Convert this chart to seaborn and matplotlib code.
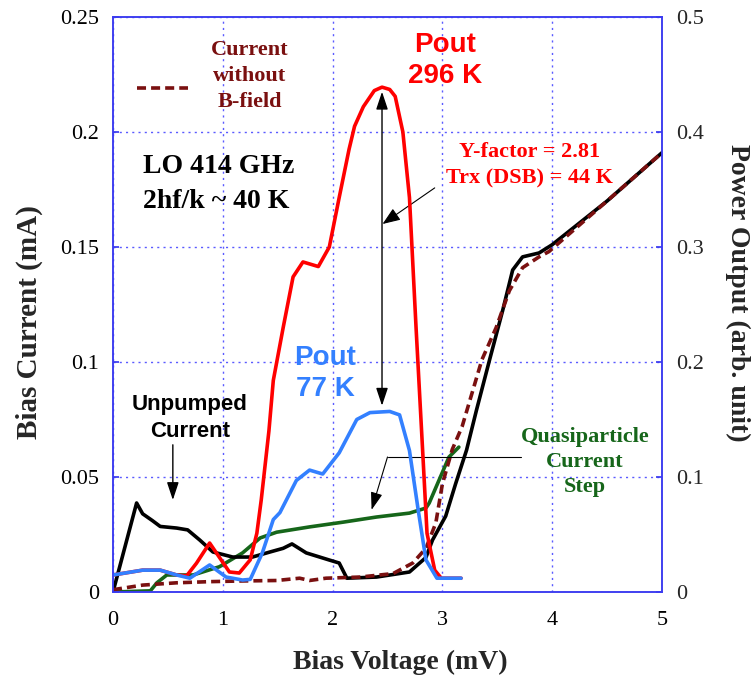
import matplotlib
matplotlib.use("Agg")
import matplotlib.pyplot as plt
import seaborn as sns

# ---------------- data ----------------
# Unpumped current (black, left axis, mA)
unp_v = [0, 0.215, 0.27, 0.36, 0.43, 0.58, 0.68, 0.79, 0.91, 1.09, 1.27, 1.43, 1.55, 1.63,
         1.76, 1.97, 2.06, 2.13, 2.4, 2.7, 2.85, 2.91, 3.03, 3.12, 3.22, 3.31, 3.43, 3.55,
         3.64, 3.73, 3.88, 4.0, 4.5, 5.0]
unp_i = [0, 0.0387, 0.034, 0.031, 0.0285, 0.0278, 0.027, 0.0226, 0.0174, 0.0152, 0.0152,
         0.0174, 0.019, 0.0209, 0.017, 0.0139, 0.0126, 0.006, 0.0065, 0.0087, 0.015, 0.0226,
         0.033, 0.047, 0.0617, 0.079, 0.101, 0.1226, 0.14, 0.1457, 0.1474, 0.151, 0.170, 0.191]

# Current without B-field (dark red dashed, left axis, mA)
nob_v = [0, 0.27, 0.58, 0.88, 1.18, 1.49, 1.7, 1.79, 1.94, 2.25, 2.55, 2.73, 2.85, 2.94,
         3.0, 3.09, 3.18, 3.27, 3.36, 3.49, 3.61, 3.73, 3.88, 3.97, 4.5, 5.0]
nob_i = [0.001, 0.003, 0.004, 0.0045, 0.0048, 0.005, 0.006, 0.005, 0.006, 0.0065, 0.008,
         0.0126, 0.019, 0.030, 0.047, 0.062, 0.072, 0.0865, 0.101, 0.115, 0.131, 0.141,
         0.1457, 0.148, 0.170, 0.191]

# Quasiparticle current step (green, left axis, mA)
qp_v = [0, 0.34, 0.4, 0.49, 0.73, 0.97, 1.18, 1.34, 1.49, 1.79, 2.1, 2.4, 2.7, 2.85, 2.88,
        2.97, 3.06, 3.15]
qp_i = [0, 0.0005, 0.004, 0.0074, 0.0074, 0.011, 0.017, 0.0235, 0.026, 0.0283, 0.0304,
        0.0326, 0.0343, 0.0365, 0.0387, 0.0487, 0.0587, 0.063]

# Pout 296 K (red, right axis, arb. unit)
hot_v = [0, 0.27, 0.43, 0.58, 0.67, 0.76, 0.88, 0.97, 1.06, 1.15, 1.25, 1.31, 1.35, 1.42,
         1.46, 1.55, 1.64, 1.73, 1.87, 1.97, 2.06, 2.15, 2.2, 2.28, 2.38, 2.45, 2.52, 2.57,
         2.64, 2.7, 2.76, 2.82, 2.86, 2.93, 2.99, 3.17]
hot_p = [0.0148, 0.019, 0.019, 0.0148, 0.014, 0.025, 0.0426, 0.030, 0.0174, 0.0165, 0.028,
         0.051, 0.08, 0.14, 0.184, 0.23, 0.274, 0.287, 0.283, 0.30, 0.343, 0.385, 0.405,
         0.422, 0.436, 0.439, 0.437, 0.431, 0.40, 0.343, 0.23, 0.123, 0.051, 0.019, 0.012,
         0.012]

# Pout 77 K (blue, right axis, arb. unit)
cold_v = [0, 0.27, 0.43, 0.58, 0.7, 0.88, 1.03, 1.18, 1.25, 1.36, 1.46, 1.52, 1.67, 1.79,
          1.91, 2.06, 2.22, 2.34, 2.52, 2.61, 2.7, 2.78, 2.85, 2.95, 3.17]
cold_p = [0.0148, 0.019, 0.019, 0.0148, 0.012, 0.0235, 0.013, 0.0104, 0.011, 0.034, 0.063,
          0.069, 0.097, 0.106, 0.1026, 0.121, 0.15, 0.156, 0.157, 0.154, 0.123, 0.071,
          0.028, 0.012, 0.012]

x_ticks = [0, 1, 2, 3, 4, 5]
left_ticks = [0, 0.05, 0.1, 0.15, 0.2, 0.25]
left_labels = ["0", "0.05", "0.1", "0.15", "0.2", "0.25"]
right_ticks = [0, 0.1, 0.2, 0.3, 0.4, 0.5]
right_labels = ["0", "0.1", "0.2", "0.3", "0.4", "0.5"]

# ---------------- style ----------------
sns.set_theme(style="white")
plt.rcParams["font.family"] = ["Liberation Serif", "DejaVu Serif"]
SERIF = ["Liberation Serif", "DejaVu Serif"]
SANS = ["Liberation Sans", "DejaVu Sans"]

BLUE_AX = "#3b3bf0"
GRID = "#5a5aff"
RED = "#ff0000"
LBLUE = "#3380ff"
GREEN = "#16661a"
DRED = "#7a1010"
DASH = [2.5, 1.4]

fig = plt.figure(figsize=(7.55, 6.79), dpi=100)
ax = fig.add_axes([113 / 755, 1 - 592 / 679, (662 - 113) / 755, (592 - 17) / 679])
ax2 = ax.twinx()

lw = 2.6
sns.lineplot(x=qp_v, y=qp_i, ax=ax, color=GREEN, lw=lw, sort=False, estimator=None)
sns.lineplot(x=unp_v, y=unp_i, ax=ax, color="black", lw=lw, sort=False, estimator=None)
sns.lineplot(x=nob_v, y=nob_i, ax=ax, color=DRED, lw=lw, sort=False, estimator=None)
ax.lines[-1].set_dashes(DASH)

sns.lineplot(x=hot_v, y=hot_p, ax=ax2, color=RED, lw=lw, sort=False, estimator=None)
sns.lineplot(x=cold_v, y=cold_p, ax=ax2, color=LBLUE, lw=lw, sort=False, estimator=None)

ax.set_xlim(0, 5)
ax.set_ylim(0, 0.25)
ax2.set_ylim(0, 0.5)

ax.set_xticks(x_ticks)
ax.set_xticklabels([str(t) for t in x_ticks])
ax.set_yticks(left_ticks)
ax.set_yticklabels(left_labels)
ax2.set_yticks(right_ticks)
ax2.set_yticklabels(right_labels)

for a in (ax, ax2):
    for s in a.spines.values():
        s.set_color(BLUE_AX)
        s.set_linewidth(1.1)
        s.set_visible(True)
ax.tick_params(axis="both", direction="in", length=4, color=BLUE_AX, labelsize=16,
               labelcolor="black")
ax.tick_params(axis="x", pad=14)
ax.tick_params(axis="y", pad=10, left=True)
ax2.tick_params(axis="y", direction="in", length=4, color=BLUE_AX, labelsize=16, pad=10,
                right=True)
for lab in ax.get_xticklabels() + ax.get_yticklabels() + ax2.get_yticklabels():
    lab.set_fontfamily(SERIF)

ax.grid(True, color=GRID, linestyle=(0, (1.5, 3)), linewidth=1.0)
ax2.grid(False)
ax.set_axisbelow(True)

ax.set_xlabel("Bias Voltage (mV)", fontsize=20, fontweight="bold", family=SERIF)
ax.xaxis.label.set_va("center")
ax.xaxis.set_label_coords(0.523, -0.1217)
ax.set_ylabel("Bias Current (mA)", fontsize=21, fontweight="bold", family=SERIF)
ax.yaxis.label.set_va("center")
ax.yaxis.set_label_coords(-0.153, 0.47)
ax2.set_ylabel("Power Output (arb. unit)", fontsize=20, fontweight="bold", family=SERIF,
               rotation=-90)
ax2.yaxis.label.set_va("center")
ax2.yaxis.set_label_coords(1.137, 0.52)

# ---------------- annotations ----------------
ax.text(3.02, 0.231, "Pout\n296 K", color=RED, fontsize=20, fontweight="bold", family=SANS,
        ha="center", va="center", linespacing=1.27)
ax.text(1.93, 0.095, "Pout\n77 K", color=LBLUE, fontsize=20, fontweight="bold", family=SANS,
        ha="center", va="center", linespacing=1.27)
ax.text(1.245, 0.2243, "Current\nwithout\nB-field", color=DRED, fontsize=16,
        fontweight="bold", family=SERIF, ha="center", va="center", linespacing=1.38)
ax.plot([0.22, 0.68], [0.219, 0.219], color=DRED, lw=lw, dashes=DASH)
ax.text(0.27, 0.1775, "LO 414 GHz\n2hf/k ~ 40 K", color="black", fontsize=20,
        fontweight="bold", family=SERIF, ha="left", va="center", linespacing=1.5)
ax.text(3.79, 0.1855, "Y-factor = 2.81\nTrx (DSB) = 44 K", color=RED, fontsize=16,
        fontweight="bold", family=SERIF, ha="center", va="center", linespacing=1.45)
ax.annotate("", xy=(2.455, 0.160), xytext=(2.93, 0.1757),
            arrowprops=dict(arrowstyle="-|>,head_length=0.9,head_width=0.35",
                            color="black", lw=0.8, shrinkA=0, shrinkB=0))
ax.annotate("", xy=(2.45, 0.2175), xytext=(2.45, 0.081),
            arrowprops=dict(arrowstyle="<|-|>,head_length=0.9,head_width=0.3",
                            color="black", lw=1.0, shrinkA=0, shrinkB=0))
ax.text(0.70, 0.0757, "Unpumped\nCurrent", color="black", fontsize=16, fontweight="bold",
        family=SANS, ha="center", va="center", linespacing=1.35)
ax.annotate("", xy=(0.545, 0.040), xytext=(0.545, 0.064),
            arrowprops=dict(arrowstyle="-|>,head_length=0.9,head_width=0.3",
                            color="black", lw=1.0, shrinkA=0, shrinkB=0))
ax.text(4.3, 0.0565, "Quasiparticle\nCurrent\nStep", color=GREEN, fontsize=16,
        fontweight="bold", family=SERIF, ha="center", va="center", linespacing=1.33)
ax.plot([3.72, 2.5], [0.0587, 0.0587], color="black", lw=0.8)
ax.annotate("", xy=(2.355, 0.0357), xytext=(2.5, 0.0587),
            arrowprops=dict(arrowstyle="-|>,head_length=0.9,head_width=0.3",
                            color="black", lw=0.8, shrinkA=0, shrinkB=0))

fig.savefig("out.png", dpi=100)
